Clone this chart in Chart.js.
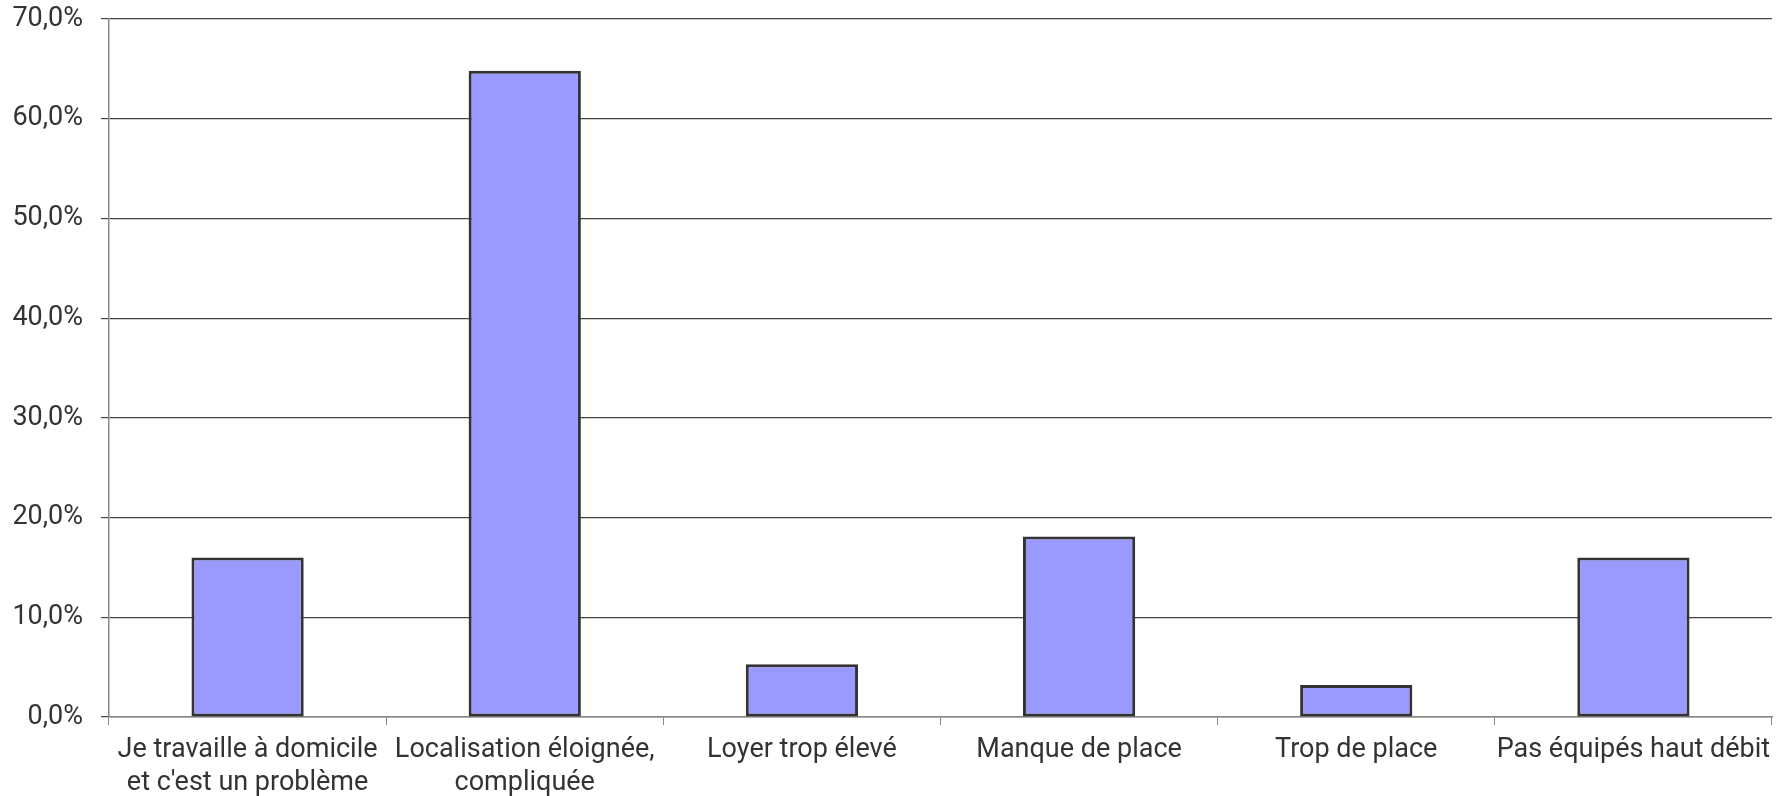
<!DOCTYPE html>
<html>
<head>
<meta charset="utf-8">
<script src="https://cdn.jsdelivr.net/npm/chart.js@4"></script>
<style>
html,body{margin:0;padding:0;background:#fff;}
#wrap{width:1787px;height:796px;}
</style>
</head>
<body>
<div id="wrap"><canvas id="c" width="1787" height="796"></canvas></div>
<script>
const categories = [
  ["Je travaille à domicile", "et c'est un problème"],
  ["Localisation éloignée,", "compliquée"],
  "Loyer trop élevé",
  "Manque de place",
  "Trop de place",
  "Pas équipés haut débit"
];
const values = [16.0, 64.8, 5.3, 18.1, 3.2, 16.0];
const yTicks = [0, 10, 20, 30, 40, 50, 60, 70];

new Chart(document.getElementById('c'), {
  type: 'bar',
  data: {
    labels: categories,
    datasets: [{
      data: values,
      backgroundColor: '#9999ff',
      borderColor: '#333333',
      borderWidth: 3,
      borderSkipped: false,
      categoryPercentage: 0.81,
      barPercentage: 0.5
    }]
  },
  options: {
    responsive: false,
    animation: false,
    layout: { padding: { left: 0, right: 15, top: 19, bottom: 0 } },
    plugins: { legend: { display: false }, tooltip: { enabled: false } },
    scales: {
      x: {
        grid: { offset: true, drawOnChartArea: false, drawTicks: true, tickLength: 8, color: '#888888' },
        border: { color: '#888888', width: 1.5 },
        ticks: {
          font: { family: 'Roboto', size: 27, lineHeight: 1.22 },
          color: '#333333',
          padding: 9,
          maxRotation: 0,
          autoSkip: false
        },
        afterFit: s => { s.height = 79; s.paddingTop = 0; }
      },
      y: {
        min: 0, max: 70,
        afterBuildTicks: s => { s.ticks = yTicks.map(v => ({ value: v })); },
        grid: { color: '#444444', lineWidth: 1.2, tickLength: 8 },
        border: { color: '#888888', width: 1.5 },
        ticks: {
          font: { family: 'Roboto', size: 27 },
          color: '#333333',
          padding: 18,
          callback: v => v.toFixed(1).replace('.', ',') + '%'
        },
        afterFit: s => { s.width = 109; s.paddingTop = 0; s.paddingBottom = 0; }
      }
    }
  }
});
</script>
</body>
</html>
